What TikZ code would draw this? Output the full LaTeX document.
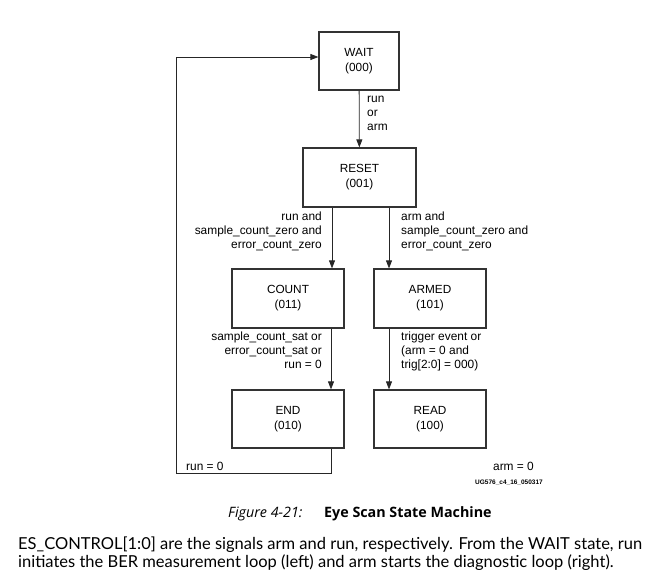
\documentclass[tikz,border=0pt]{standalone}
\usepackage{fontspec}
\setmainfont{Liberation Sans}
\newfontfamily\capfont{Open Sans}
\newfontfamily\parfont{Lato}
\usetikzlibrary{arrows.meta,positioning}

\begin{document}
\begin{tikzpicture}[x=1pt,y=-1pt,
stbox/.style={draw=black!80,line width=1.2pt,minimum width=112pt,minimum height=59pt,
  align=center,font=\fontsize{11.8}{15}\selectfont},
cond/.style={font=\fontsize{11.9}{14}\selectfont,inner sep=0pt,execute at begin node=\strut},
trans/.style={-{Triangle[length=8pt,width=6pt]},line width=0.8pt,draw=black!85},
partext/.style={inner sep=0pt,anchor=base west,font=\parfont\fontsize{16.5}{18}\selectfont},
]
\useasboundingbox (0,0) rectangle (668,577);

% states
\node[stbox,minimum width=80pt,minimum height=58pt] (wait) at (359,61) {WAIT\\(000)};
\node[stbox,minimum width=113pt] (reset) at (359.5,177.5) {RESET\\(001)};
\node[stbox] (count) at (288,298.5) {COUNT\\(011)};
\node[stbox] (armed) at (430,298.5) {ARMED\\(101)};
\node[stbox,minimum height=58pt] (end) at (288,419) {END\\(010)};
\node[stbox,minimum height=58pt] (read) at (430,419) {READ\\(100)};

% transitions
\draw[trans] (wait) -- (reset);
\draw[trans] ([xshift=-27.5pt]reset.south) -- ([xshift=44pt]count.north);
\draw[trans] ([xshift=29.5pt]reset.south) -- ([xshift=-41pt]armed.north);
\draw[trans] ([xshift=43pt]count.south) -- ([xshift=43pt]end.north);
\draw[trans] ([xshift=-41pt]armed.south) -- ([xshift=-41pt]read.north);
\coordinate (lb) at (331,473);
\coordinate (lt) at (176,57);
\draw[trans] ([xshift=43pt]end.south) |- (lb) -| (lt) -- (wait.west |- lt);

% conditions
\node[cond,anchor=north west,align=left] (c1) at (367,96) {run\\or\\arm};
\node[cond,anchor=north east,align=right] (c2) at (322,212) {run and\\sample\_count\_zero and\\error\_count\_zero};
\node[cond,anchor=north west,align=left] (c3) at (401,212) {arm and\\sample\_count\_zero and\\error\_count\_zero};
\node[cond,anchor=north east,align=right] (c4) at (322,332) {sample\_count\_sat or\\error\_count\_sat or\\run = 0};
\node[cond,anchor=north west,align=left] (c5) at (401,332) {trigger event or\\(arm = 0 and\\trig[2:0] = 000)};
\node[cond,anchor=base west] (c6) at (186,470) {run = 0};
\node[cond,anchor=base east] (c7) at (534,470) {arm = 0};
\node[inner sep=0pt,anchor=base east,font=\fontsize{6.5}{8}\selectfont\bfseries] (id) at (543,484) {UG576\_c4\_16\_050317};

% caption
\node[inner sep=0pt,anchor=base west,font=\capfont\fontsize{14.3}{16}\selectfont\itshape] (fig) at (228,517) {Figure 4-21:};
\node[inner sep=0pt,anchor=base west,font=\capfont\fontsize{14.3}{16}\selectfont\bfseries] (title) at (324,517) {Eye Scan State Machine};
\node[partext] (par1) at (18,549) {ES\_CONTROL[1:0] are the signals arm and run, respectively. From the WAIT state, run};
\node[partext] (par2) at (18,567) {initiates the BER measurement loop (left) and arm starts the diagnostic loop (right).};
\end{tikzpicture}
\end{document}
